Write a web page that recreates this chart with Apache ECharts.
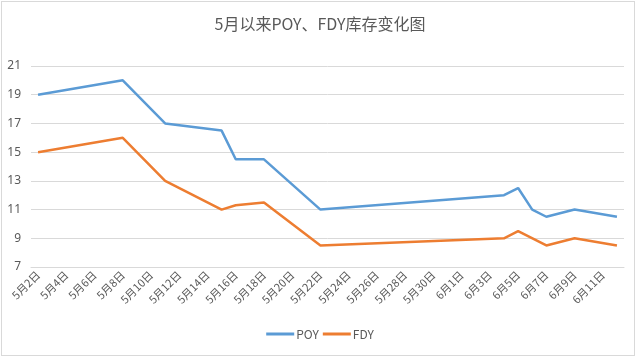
<!DOCTYPE html>
<html>
<head>
<meta charset="utf-8">
<script src="https://cdn.jsdelivr.net/npm/echarts@6/dist/echarts.min.js"></script>
<style>
html,body{margin:0;padding:0;background:#fff;}
#chart{width:640px;height:357px;position:relative;}
#frame{position:absolute;left:1px;top:1px;width:632px;height:353px;border:1px solid #d9d9d9;pointer-events:none;}
</style>
</head>
<body>
<div id="chart"></div>
<div id="frame"></div>
<script>
const titleText = "5月以来POY、FDY库存变化图";
const categories = [
  "5月2日","5月3日","5月4日","5月5日","5月6日","5月7日","5月8日","5月9日","5月10日","5月11日",
  "5月12日","5月13日","5月14日","5月15日","5月16日","5月17日","5月18日","5月19日","5月20日","5月21日",
  "5月22日","5月23日","5月24日","5月25日","5月26日","5月27日","5月28日","5月29日","5月30日","5月31日",
  "6月1日","6月2日","6月3日","6月4日","6月5日","6月6日","6月7日","6月8日","6月9日","6月10日",
  "6月11日","6月12日"
];
const poyDates = ["5月2日","5月8日","5月11日","5月15日","5月16日","5月18日","5月22日","6月4日","6月5日","6月6日","6月7日","6月9日","6月12日"];
const poyValues = [19, 20, 17, 16.5, 14.5, 14.5, 11, 12, 12.5, 11, 10.5, 11, 10.5];
const fdyDates = ["5月2日","5月8日","5月11日","5月15日","5月16日","5月18日","5月22日","6月4日","6月5日","6月7日","6月9日","6月12日"];
const fdyValues = [15, 16, 13, 11, 11.3, 11.5, 8.5, 9, 9.5, 8.5, 9, 8.5];

function build(dates, values) {
  const out = categories.map(() => null);
  dates.forEach((d, i) => { out[categories.indexOf(d)] = values[i]; });
  return out;
}

const chart = echarts.init(document.getElementById('chart'));
chart.setOption({
  animation: false,
  backgroundColor: '#fff',
  title: {
    text: titleText,
    left: 'center',
    top: 11,
    textStyle: {fontFamily: '"Noto Sans CJK SC", sans-serif', fontSize: 16, fontWeight: 'normal', color: '#595959'}
  },
  legend: {
    bottom: 12,
    left: 'center',
    itemWidth: 28,
    itemHeight: 3,
    itemGap: 4,
    icon: 'rect',
    textStyle: {fontFamily: '"Noto Sans CJK SC", sans-serif', fontSize: 12, color: '#595959', padding: [0, 0, 0, -3]},
    data: ['POY', 'FDY']
  },
  grid: {left: 31, right: 16, top: 66, bottom: 90, containLabel: false},
  xAxis: {
    type: 'category',
    data: categories,
    boundaryGap: true,
    axisLine: {lineStyle: {color: '#d9d9d9'}},
    axisTick: {interval: 1, length: 5, lineStyle: {color: '#d9d9d9'}},
    axisLabel: {interval: 1, rotate: 45, fontSize: 11, color: '#595959', margin: 6,
      fontFamily: '"Noto Sans CJK SC", sans-serif'}
  },
  yAxis: {
    type: 'value',
    min: 7, max: 21, interval: 2,
    axisLine: {show: false},
    axisTick: {show: false},
    splitLine: {lineStyle: {color: '#d9d9d9'}},
    axisLabel: {fontSize: 12, color: '#595959', margin: 10, fontFamily: '"Noto Sans", sans-serif'}
  },
  series: [
    {name: 'POY', type: 'line', data: build(poyDates, poyValues), connectNulls: true,
     showSymbol: false, symbol: 'none', lineStyle: {width: 2.5, color: '#5B9BD5'}, itemStyle: {color: '#5B9BD5'}},
    {name: 'FDY', type: 'line', data: build(fdyDates, fdyValues), connectNulls: true,
     showSymbol: false, symbol: 'none', lineStyle: {width: 2.5, color: '#ED7D31'}, itemStyle: {color: '#ED7D31'}}
  ]
});
</script>
</body>
</html>
